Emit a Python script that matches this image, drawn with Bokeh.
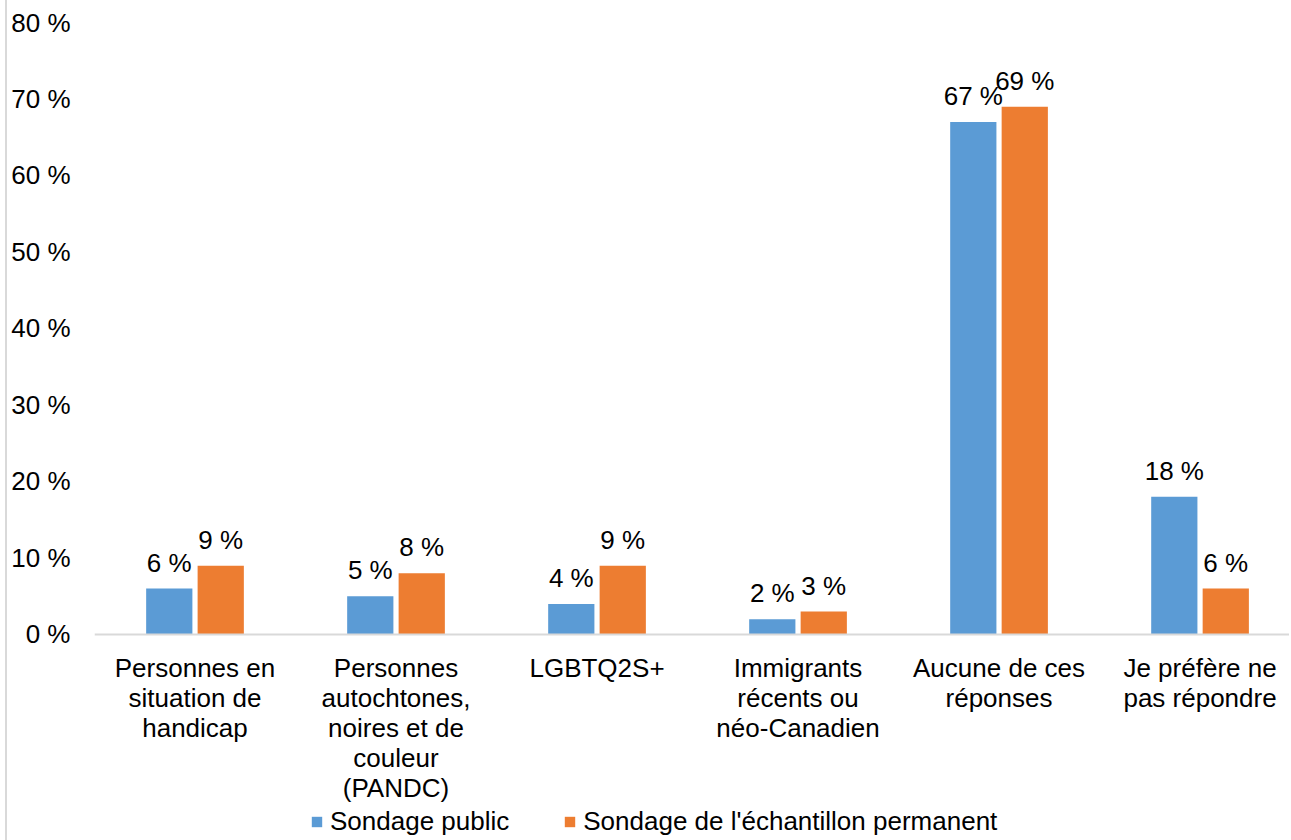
from bokeh.plotting import figure
from bokeh.models import Range1d, FixedTicker, Legend, LegendItem, ColumnDataSource, Span
from bokeh.core.properties import value
from bokeh.embed import file_html
from bokeh.resources import INLINE

categories = [
    "Personnes en\nsituation de\nhandicap",
    "Personnes\nautochtones,\nnoires et de\ncouleur\n(PANDC)",
    "LGBTQ2S+",
    "Immigrants\nrécents ou\nnéo-Canadien",
    "Aucune de ces\nréponses",
    "Je préfère ne\npas répondre",
]
series_names = ["Sondage public", "Sondage de l'échantillon permanent"]
public = [6, 5, 4, 2, 67, 18]
permanent = [9, 8, 9, 3, 69, 6]
y_ticks = [0, 10, 20, 30, 40, 50, 60, 70, 80]
colors = ["#5B9BD5", "#ED7D31"]

FONT = "Liberation Sans"
FS = "26px"

centers = [i + 0.5 for i in range(len(categories))]

p = figure(
    width=1284, height=840,
    x_range=Range1d(0, 5.955), y_range=Range1d(-26.93, 80),
    output_backend="svg", toolbar_location=None,
    min_border_left=87, min_border_right=0, min_border_top=22, min_border_bottom=0,
)
p.styles = {"margin-left": "5px", "border-left": "2px solid #D9D9D9"}
p.outline_line_color = None
p.xgrid.grid_line_color = None
p.ygrid.grid_line_color = None
p.background_fill_color = "white"
p.border_fill_color = "white"
p.xaxis.visible = False

# baseline (category axis line)
p.add_layout(Span(location=0, dimension="width", line_color="#D9D9D9", line_width=2))

renderers = []
for k, (vals, off) in enumerate([(public, -0.128), (permanent, 0.128)]):
    xs = [c + off for c in centers]
    src = ColumnDataSource(dict(x=xs, top=vals, lab=[f"{v} %" for v in vals]))
    r = p.vbar(x="x", top="top", width=0.23, bottom=0, source=src,
               fill_color=colors[k], line_color=None)
    renderers.append(r)
    p.text(x="x", y="top", text="lab", source=src, text_align="center",
           text_baseline="bottom", y_offset=-11, text_font=value(FONT),
           text_font_size=FS, text_color="black")

# category labels below the baseline
cat_src = ColumnDataSource(dict(x=centers, y=[0] * len(centers), lab=categories))
p.text(x="x", y="y", text="lab", source=cat_src, text_align="center",
       text_baseline="top", y_offset=19, text_font=value(FONT),
       text_font_size=FS, text_color="black", text_line_height=1.0)

# Y axis
p.yaxis.ticker = FixedTicker(ticks=y_ticks)
p.yaxis.major_label_overrides = {t: f"{t} %" for t in y_ticks}
p.yaxis.axis_line_color = None
p.yaxis.major_tick_line_color = None
p.yaxis.minor_tick_line_color = None
p.yaxis.major_label_standoff = 18
p.yaxis.major_label_text_font = FONT
p.yaxis.major_label_text_font_size = FS
p.yaxis.major_label_text_color = "black"

legend = Legend(
    items=[LegendItem(label=series_names[0], renderers=[renderers[0]]),
           LegendItem(label=series_names[1], renderers=[renderers[1]])],
    location=(216, 3), orientation="horizontal",
    label_text_font=FONT, label_text_font_size=FS, label_text_color="black",
    glyph_width=13, glyph_height=13, label_standoff=7, spacing=54,
    padding=0, margin=0, border_line_color=None, background_fill_alpha=0,
)
p.add_layout(legend)

open("out.html", "w").write(file_html(p, INLINE))
